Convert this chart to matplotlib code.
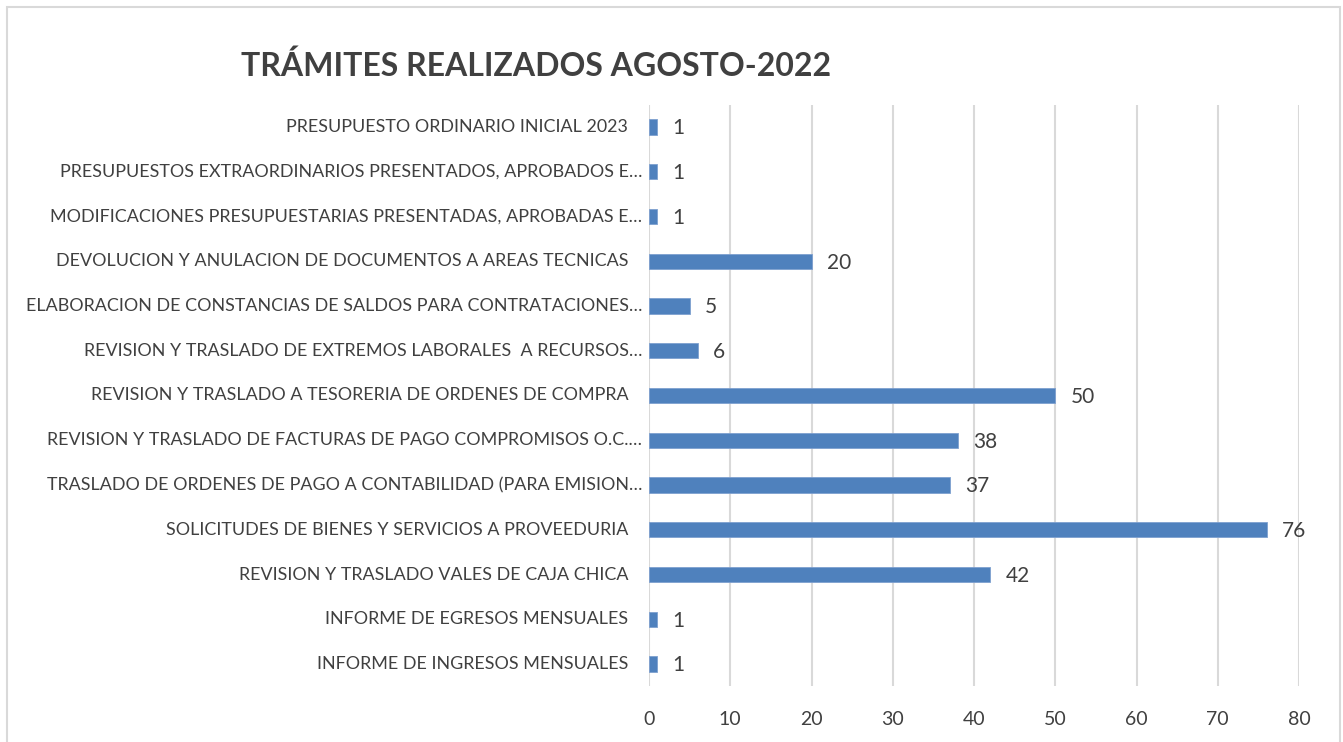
import matplotlib
matplotlib.use('Agg')
import matplotlib.pyplot as plt
from matplotlib.patches import Rectangle

# DATA (bottom to top, as drawn)
categorias = [
    "INFORME DE INGRESOS MENSUALES",
    "INFORME DE EGRESOS MENSUALES",
    "REVISION Y TRASLADO VALES DE CAJA CHICA",
    "SOLICITUDES DE BIENES Y SERVICIOS A PROVEEDURIA",
    "TRASLADO DE ORDENES DE PAGO A CONTABILIDAD (PARA EMISION\u2026",
    "REVISION Y TRASLADO DE FACTURAS DE PAGO COMPROMISOS O.C.\u2026",
    "REVISION Y TRASLADO A TESORERIA DE ORDENES DE COMPRA",
    "REVISION Y TRASLADO DE EXTREMOS LABORALES  A RECURSOS\u2026",
    "ELABORACION DE CONSTANCIAS DE SALDOS PARA CONTRATACIONES\u2026",
    "DEVOLUCION Y ANULACION DE DOCUMENTOS A AREAS TECNICAS",
    "MODIFICACIONES PRESUPUESTARIAS PRESENTADAS, APROBADAS E\u2026",
    "PRESUPUESTOS EXTRAORDINARIOS PRESENTADOS, APROBADOS E\u2026",
    "PRESUPUESTO ORDINARIO INICIAL 2023",
]
tramites = [1, 1, 42, 76, 37, 38, 50, 6, 5, 20, 1, 1, 1]
ticks_x = [0, 10, 20, 30, 40, 50, 60, 70, 80]
titulo = "TR\u00c1MITES REALIZADOS AGOSTO-2022"

plt.rcParams['font.family'] = ['Lato', 'DejaVu Sans']
W, H = 1343, 742
fig = plt.figure(figsize=(W / 100, H / 100), dpi=100)

# chart frame
fig.patches.append(Rectangle((7 / W, -0.05), (1340 - 7) / W, 1.05 - 7 / H,
                             transform=fig.transFigure, fill=False,
                             edgecolor='#D9D9D9', linewidth=1.5))

ax = fig.add_axes([649 / W, 1 - 686.4 / H, 650 / W, (686.4 - 104.6) / H])
y = list(range(len(categorias)))
ax.barh(y, tramites, height=0.34, color='#4F81BD', edgecolor='#7EA0CF', linewidth=0.6, zorder=3)
ax.set_xlim(0, 80)
ax.set_ylim(-0.5, len(categorias) - 0.5)
ax.set_xticks(ticks_x)
ax.tick_params(axis='x', length=0, pad=18, labelsize=14, labelcolor='#404040')
ax.set_yticks([])
ax.grid(axis='x', color='#D9D9D9', linewidth=1.5, zorder=0)
for s in ax.spines.values():
    s.set_visible(False)

for yi, cat, v in zip(y, categorias, tramites):
    pad = 5 if cat.endswith('\u2026') else 15
    ax.annotate(cat, xy=(0, yi), xytext=(-pad, 0), textcoords='offset points',
                ha='right', va='center', fontsize=12.85, color='#404040')
    ax.annotate(str(v), xy=(v, yi), xytext=(11, -1), textcoords='offset points',
                ha='left', va='center', fontsize=15, color='#404040')

fig.text(536 / W, 1 - 66 / H, titulo, ha='center', va='center',
         fontsize=23, fontweight='bold', color='#404040')

fig.savefig('out.png', dpi=100)
